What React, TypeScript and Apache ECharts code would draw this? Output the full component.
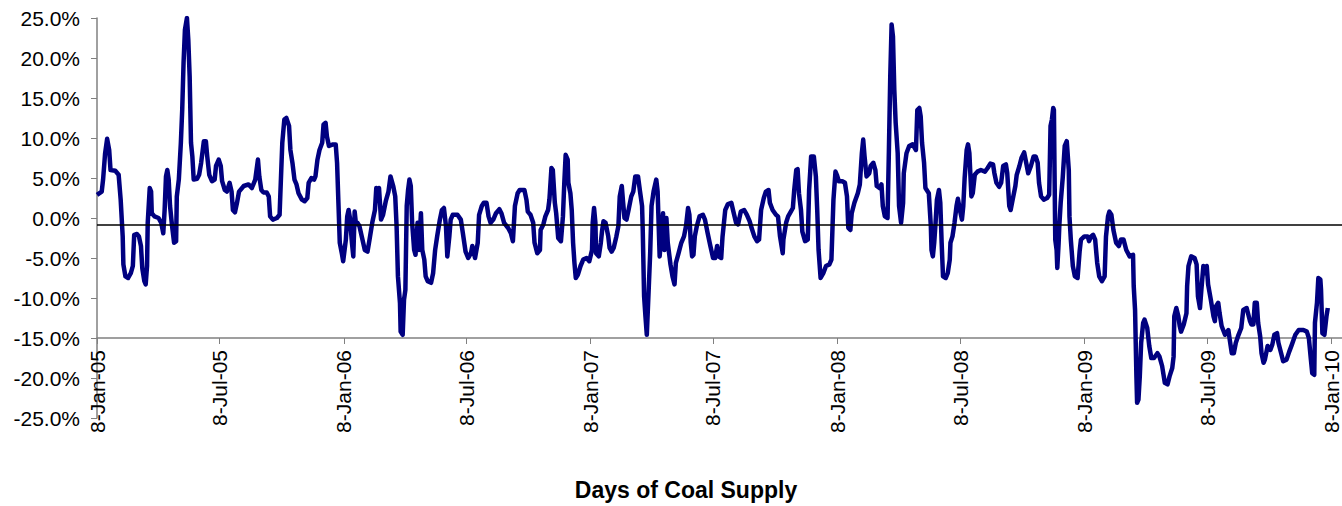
import React, { useEffect, useRef } from "react";
import * as echarts from "echarts";

// Percentage deviation of days of coal supply.
// Each entry: [days since 8-Jan-2005, deviation in %]
const START_DATE = "2005-01-08";
const tickDates = [
  "2005-01-08", "2005-07-08", "2006-01-08", "2006-07-08", "2007-01-08", "2007-07-08",
  "2008-01-08", "2008-07-08", "2009-01-08", "2009-07-08", "2010-01-08",
];
const yMin = -25;
const yMax = 25;
const yStep = 5;
const referenceLevel = -0.8;
const axisCrossLevel = -15;
const xAxisName = "Days of Coal Supply";

const seg2005to2006: [number, number][] = [
  [0,2.9],[7,3.3],[9,4.8],[12,8.1],[15,9.9],[18,8.5],[20,6.0],[27,5.9],[32,5.4],[35,2.3],[38,-2.3],[39,-5.8],[42,-7.3],[46,-7.5],[50,-6.9],[53,-6.0],[55,-2.1],[59,-2.0],[62,-2.3],[65,-3.5],[67,-6.3],[70,-7.9],[72,-8.3],[74,-6.0],[75,-0.6],[78,3.75],[80,3.3],[81,0.6],[85,0.2],[91,0.0],[95,-0.6],[98,-1.9],[100,1.0],[102,5.2],[104,6.0],[106,4.8],[108,1.5],[111,-1.0],[114,-3.1],[117,-2.9],[118,2.7],[121,4.8],[124,9.4],[126,13.5],[128,19.4],[130,23.5],[133,25.0],[135,22.3],[137,17.7],[139,9.4],[141,7.7],[143,4.8],[148,4.9],[151,5.4],[154,6.9],[158,9.6],[161,9.6],[163,7.7],[166,5.4],[170,4.6],[174,4.8],[176,6.5],[180,7.3],[183,6.5],[185,4.6],[189,3.5],[192,3.3],[196,4.4],[199,3.3],[201,1.0],[204,0.7],[207,1.9],[210,3.3],[217,4.0],[224,4.2],[229,3.75],[234,4.8],[238,7.3],[240,5.2],[243,3.5],[246,3.2],[251,3.2],[254,2.7],[256,0.2],[260,-0.2],[266,0.0],[270,0.4],[271,2.7],[274,9.4],[277,12.3],[280,12.5],[284,11.5],[286,8.5],[289,6.9],[292,4.8],[295,4.2],[298,3.1],[303,2.3],[307,2.1],[311,2.5],[313,4.4],[317,5.0],[321,4.8],[323,5.2],[326,7.3],[329,8.5],[333,9.4],[335,11.7],[338,11.9],[340,10.2],[343,9.0],[349,9.2],[353,9.2],[355,6.9],[357,1.9],[359,-3.1],[362,-4.4],[364,-5.4],[368,-2.7],[370,0.2],[372,1.0],[374,0.0],[377,-3.1],[379,-4.8],[381,0.8],[383,-0.8],[385,-0.6],[388,-1.0],[392,-2.5],[396,-4.0],[400,-4.2],[403,-2.7],[407,-0.6],[411,1.0],[413,3.75],[415,2.7],[417,3.75],[420,-0.2],[423,0.4],[427,2.1],[431,3.3],[434,5.2],[438,4.0],[441,2.7],[443,-1.0],[445,-7.3],[448,-10.6],[449,-14.2],[452,-14.6],[454,-10.2],[456,-9.0],[458,1.5],[460,3.5],[462,4.8],[464,4.0],[466,-0.6],[469,-4.0],[471,-4.6],[474,-0.6],[476,-4.0],[479,0.6],[481,-4.0],[484,-5.2],[486,-7.3],[489,-7.9],[494,-8.1],[497,-6.9],[500,-4.0],[503,-2.3],[507,-0.2],[510,1.0],[513,1.25],[516,-1.0],[518,-4.8],[521,-2.3],[523,-0.2],[526,0.4],[533,0.4],[538,-0.2],[541,-1.9],[545,-4.2],[549,-5.0],[553,-4.4],[555,-3.5],[559,-5.0],[563,-3.1],[565,0.4],[569,1.5],[572,1.9],[576,1.9],[579,0.2],[582,-0.6],[586,-0.2],[590,0.6],[595,1.1],[598,0.6],[602,-0.6],
];

const seg2006to2008: [number, number][] = [
  [608,-1.25],[612,-1.9],[615,-2.9],[618,1.5],[622,3.1],[625,3.5],[632,3.5],[635,2.3],[637,0.8],[641,0.4],[645,-0.6],[647,-3.1],[651,-4.4],[655,-4.0],[656,-1.5],[660,-0.8],[663,0.2],[667,1.0],[669,2.3],[672,6.25],[674,6.0],[677,1.9],[679,0.6],[682,-2.5],[686,-2.9],[689,0.2],[691,4.4],[693,7.9],[696,7.3],[697,4.4],[700,3.1],[702,1.0],[704,-3.1],[706,-5.6],[708,-7.5],[711,-7.1],[715,-6.0],[719,-5.2],[724,-5.0],[728,-5.4],[732,-4.0],[733,-0.6],[735,1.25],[737,-0.6],[738,-4.4],[742,-4.8],[745,-3.1],[747,-1.5],[749,-0.4],[752,-0.6],[756,-2.3],[758,-3.75],[761,-4.2],[764,-3.75],[768,-2.3],[771,-1.0],[773,2.7],[776,4.0],[778,1.9],[780,0.0],[783,-0.2],[786,1.0],[790,2.7],[793,3.3],[796,5.2],[800,5.2],[803,3.3],[806,1.5],[807,-1.5],[809,-9.8],[811,-12.3],[813,-14.6],[816,-8.5],[818,-4.4],[820,1.5],[823,3.3],[827,4.8],[829,3.3],[832,-4.8],[834,-2.7],[837,0.6],[839,-4.0],[842,0.0],[844,-3.1],[848,-5.8],[851,-7.3],[854,-8.3],[856,-5.6],[860,-4.4],[864,-3.1],[868,-2.3],[871,-1.0],[874,1.25],[876,0.4],[878,-3.1],[880,-4.8],[882,-4.6],[884,-2.3],[887,-1.0],[891,0.2],[896,0.4],[899,-0.2],[903,-1.9],[907,-3.5],[911,-5.0],[914,-5.0],[917,-3.5],[919,-4.8],[923,-5.0],[925,-2.3],[929,1.0],[933,1.75],[938,1.9],[941,0.8],[945,-0.6],[948,-0.8],[952,0.8],[957,1.0],[961,0.4],[965,-0.4],[968,-1.25],[972,-2.3],[976,-2.9],[979,-2.7],[982,1.0],[986,2.5],[989,3.3],[993,3.5],[995,1.9],[999,1.0],[1004,0.4],[1007,0.2],[1010,-2.3],[1014,-4.4],[1015,-2.7],[1019,-0.6],[1022,0.2],[1026,0.8],[1029,1.25],[1031,3.5],[1034,6.0],[1036,6.1],[1038,3.1],[1041,1.0],[1043,-1.7],[1047,-2.9],[1051,-2.7],[1053,3.5],[1056,7.7],[1060,7.7],[1063,5.2],[1065,1.0],[1067,-4.0],[1070,-7.5],[1074,-6.9],[1078,-6.0],[1083,-5.8],[1086,-5.2],[1089,2.3],[1092,5.8],[1094,5.4],[1097,4.6],[1102,4.6],[1106,4.4],[1109,2.7],[1111,-1.25],[1114,-1.5],[1116,0.6],[1120,1.9],[1125,3.1],[1128,4.2],[1131,8.1],[1133,9.8],[1135,7.7],[1138,5.2],[1142,5.6],[1144,6.5],[1148,6.9],[1151,6.0],[1153,4.0],[1157,3.75],[1160,4.2],[1162,1.5],[1165,0.2],[1169,0.0],[1171,8.5],[1173,17.7],[1175,24.2],[1177,22.7],[1179,16.0],[1181,11.9],[1184,8.1],[1186,1.5],[1189,-0.6],[1192,1.9],[1193,5.6],[1197,8.1],[1201,9.0],[1206,9.2],[1211,8.5],[1213,13.5],[1216,13.75],
];

const seg2008to2010: [number, number][] = [
  [1218,12.7],[1220,9.4],[1223,6.9],[1225,3.75],[1230,3.1],[1233,-1.0],[1234,-4.0],[1236,-4.8],[1238,-3.1],[1240,-0.6],[1242,2.3],[1245,3.5],[1247,1.9],[1249,-3.1],[1251,-7.3],[1255,-7.5],[1258,-6.9],[1261,-5.2],[1262,-3.1],[1265,-2.3],[1268,-0.6],[1271,1.5],[1273,2.4],[1276,1.0],[1279,-0.2],[1281,1.5],[1283,5.0],[1286,8.5],[1288,9.2],[1290,8.1],[1293,2.7],[1295,3.1],[1298,5.4],[1302,5.8],[1307,6.0],[1313,5.8],[1317,6.25],[1321,6.8],[1325,6.7],[1327,5.6],[1330,4.4],[1334,3.9],[1337,4.4],[1340,6.5],[1344,6.7],[1346,5.6],[1349,1.5],[1351,1.0],[1354,2.3],[1358,4.0],[1360,5.4],[1364,6.5],[1367,7.5],[1371,8.2],[1374,6.9],[1377,5.6],[1381,6.5],[1385,7.7],[1388,7.7],[1391,6.9],[1393,4.4],[1396,2.7],[1400,2.3],[1405,2.5],[1408,2.9],[1410,11.5],[1412,12.3],[1414,13.75],[1415,13.5],[1416,5.2],[1417,-2.7],[1419,-4.0],[1420,-6.25],[1422,-3.1],[1423,-1.0],[1425,1.9],[1428,5.0],[1431,9.0],[1434,9.6],[1437,6.0],[1438,0.2],[1440,-2.7],[1443,-6.0],[1446,-7.3],[1450,-7.5],[1453,-4.2],[1455,-2.7],[1460,-2.3],[1465,-2.3],[1467,-2.9],[1470,-2.3],[1473,-2.1],[1476,-2.7],[1479,-5.6],[1482,-7.3],[1486,-7.9],[1490,-7.3],[1492,-2.3],[1495,0.2],[1497,0.8],[1500,0.4],[1503,-1.5],[1507,-3.1],[1511,-3.5],[1514,-2.7],[1518,-2.7],[1522,-4.0],[1527,-4.8],[1532,-4.6],[1533,-8.5],[1535,-11.5],[1537,-19.8],[1538,-23.1],[1540,-22.7],[1542,-19.8],[1544,-15.6],[1547,-13.1],[1549,-12.7],[1553,-13.75],[1556,-16.0],[1559,-17.5],[1563,-17.5],[1568,-16.9],[1571,-17.3],[1575,-18.5],[1579,-20.6],[1583,-20.8],[1586,-19.8],[1590,-18.75],[1592,-17.3],[1593,-12.3],[1596,-11.25],[1599,-12.3],[1601,-13.5],[1603,-14.2],[1607,-13.3],[1611,-11.9],[1612,-8.5],[1614,-6.0],[1618,-4.8],[1623,-5.0],[1626,-5.8],[1628,-9.8],[1631,-11.25],[1633,-9.0],[1636,-6.0],[1638,-6.9],[1641,-6.0],[1643,-8.3],[1647,-10.2],[1651,-12.3],[1653,-12.9],[1655,-11.0],[1658,-10.6],[1660,-11.9],[1663,-13.5],[1668,-14.6],[1673,-14.0],[1675,-15.2],[1678,-16.9],[1681,-16.9],[1684,-15.6],[1688,-14.6],[1692,-13.75],[1695,-11.5],[1700,-11.25],[1702,-11.9],[1705,-12.9],[1707,-13.3],[1710,-13.3],[1712,-10.6],[1715,-10.6],[1717,-13.1],[1720,-14.8],[1722,-16.9],[1725,-18.1],[1727,-17.7],[1731,-16.0],[1735,-16.5],[1738,-15.8],[1741,-14.6],[1745,-14.4],[1747,-15.6],[1751,-16.9],[1754,-17.9],[1759,-17.7],[1763,-16.7],[1767,-15.8],[1772,-14.6],[1777,-14.0],[1784,-14.0],[1789,-14.2],[1792,-15.0],[1795,-17.7],[1797,-19.4],[1800,-19.6],[1801,-13.1],[1804,-10.6],[1806,-7.5],[1809,-7.7],[1810,-9.0],[1812,-14.4],[1815,-14.6],[1818,-12.3],[1820,-11.25],
];

const MONTHS = ["Jan", "Feb", "Mar", "Apr", "May", "Jun", "Jul", "Aug", "Sep", "Oct", "Nov", "Dec"];
const DAY_MS = 86400000;
function isoToUtc(iso: string): number {
  const [y, m, d] = iso.split("-").map(Number);
  return Date.UTC(y, m - 1, d);
}
const START_MS = isoToUtc(START_DATE);
function dayOffset(iso: string): number {
  return Math.round((isoToUtc(iso) - START_MS) / DAY_MS);
}
function formatDay(day: number): string {
  const dt = new Date(START_MS + Math.round(day) * DAY_MS);
  const yy = String(dt.getUTCFullYear() % 100).padStart(2, "0");
  return `${dt.getUTCDate()}-${MONTHS[dt.getUTCMonth()]}-${yy}`;
}

// pixel layout of the plot
const PLOT_LEFT = 97;
const PLOT_TOP = 18;
const PLOT_HEIGHT = 400;
const PAGE_H = 506;

export default function App() {
  const ref = useRef<HTMLDivElement>(null);
  useEffect(() => {
    if (!ref.current) return;
    const chart = echarts.init(ref.current, undefined, { renderer: "svg" });
    const tickDays = tickDates.map(dayOffset);
    const xMax = tickDays[tickDays.length - 1] + 15;
    const data = [...seg2005to2006, ...seg2006to2008, ...seg2008to2010];
    const font = "'Liberation Sans', Arial, sans-serif";
    // the category axis crosses the value axis at axisCrossLevel
    const crossFrac = (yMax - axisCrossLevel) / (yMax - yMin);
    const crossBottom = PAGE_H - (PLOT_TOP + PLOT_HEIGHT * crossFrac);
    chart.setOption({
      animation: false,
      backgroundColor: "#ffffff",
      grid: [
        { left: PLOT_LEFT, right: 0, top: PLOT_TOP, bottom: PAGE_H - PLOT_TOP - PLOT_HEIGHT, containLabel: false },
        { left: PLOT_LEFT, right: 0, top: PLOT_TOP, bottom: crossBottom, containLabel: false },
      ],
      xAxis: [
        {
          type: "value",
          gridIndex: 0,
          min: 0,
          max: xMax,
          show: false,
          splitLine: { show: false },
        },
        {
          type: "value",
          gridIndex: 1,
          min: 0,
          max: xMax,
          position: "bottom",
          axisLine: { show: true, onZero: false, lineStyle: { color: "#808080", width: 1.5 } },
          axisTick: {
            show: true,
            customValues: tickDays,
            length: 6,
            lineStyle: { color: "#808080", width: 1 },
          },
          axisLabel: {
            customValues: tickDays,
            rotate: 90,
            margin: 12,
            fontSize: 21,
            fontFamily: font,
            color: "#000000",
            formatter: (v: number) => formatDay(v),
          },
          splitLine: { show: false },
        },
      ],
      yAxis: [
        {
          type: "value",
          gridIndex: 0,
          min: yMin,
          max: yMax,
          interval: yStep,
          axisLine: { show: true, onZero: false, lineStyle: { color: "#808080", width: 1.5 } },
          axisTick: { show: true, length: 6, lineStyle: { color: "#808080", width: 1 } },
          axisLabel: {
            margin: 17,
            fontSize: 21,
            fontFamily: font,
            color: "#000000",
            formatter: (v: number) => `${v.toFixed(1)}%`,
          },
          splitLine: { show: false },
        },
        {
          type: "value",
          gridIndex: 1,
          min: axisCrossLevel,
          max: yMax,
          show: false,
          splitLine: { show: false },
        },
      ],
      series: [
        {
          type: "line",
          name: "Deviation",
          xAxisIndex: 0,
          yAxisIndex: 0,
          data,
          showSymbol: false,
          symbol: "none",
          clip: true,
          lineStyle: { color: "#000080", width: 4.5, join: "round" },
          markLine: {
            silent: true,
            symbol: "none",
            label: { show: false },
            lineStyle: { color: "#000000", width: 1.5, type: "solid" },
            data: [{ yAxis: referenceLevel }],
          },
          z: 3,
        },
        {
          type: "line",
          name: "axis",
          xAxisIndex: 1,
          yAxisIndex: 1,
          data: [],
          silent: true,
        },
      ],
      graphic: [
        {
          type: "text",
          x: 686,
          y: 490,
          style: {
            text: xAxisName,
            font: `bold 23px ${font}`,
            fill: "#000000",
            textAlign: "center",
            textVerticalAlign: "middle",
          },
        },
      ],
    });
    return () => chart.dispose();
  }, []);
  return (
    <div
      ref={ref}
      style={{ position: "fixed", left: 0, top: 0, width: 1342, height: 506, background: "#fff" }}
    />
  );
}
